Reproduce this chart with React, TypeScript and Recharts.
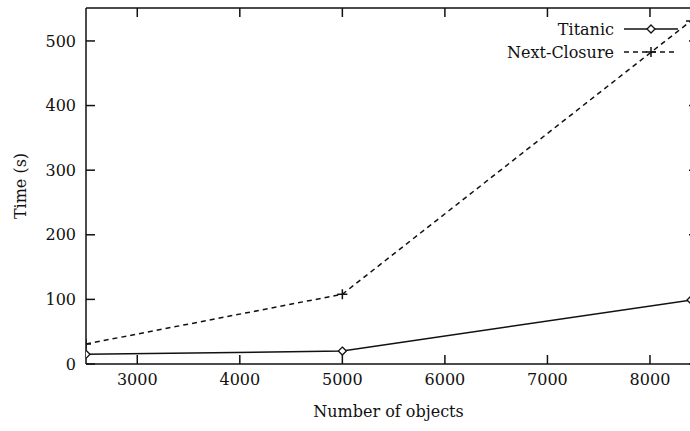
import { LineChart, Line, XAxis, YAxis, Label } from "recharts";

const objects = [2500, 5000, 8400];
const titanic = [15, 20, 99];
const nextClosure = [31, 108, 531];
const xTicks = [3000, 4000, 5000, 6000, 7000, 8000];
const yTicks = [0, 100, 200, 300, 400, 500];

const data = objects.map((n, i) => ({
  n,
  titanic: titanic[i],
  nextClosure: nextClosure[i],
}));

const FONT = "'DejaVu Serif', serif";
const INK = "#111";

const Diamond = (props: any) => {
  const { cx, cy } = props;
  if (cx == null || cy == null) return null;
  return (
    <path
      d={`M${cx},${cy - 4}L${cx + 4},${cy}L${cx},${cy + 4}L${cx - 4},${cy}Z`}
      fill="#fff"
      stroke={INK}
      strokeWidth={1.3}
    />
  );
};

const Plus = (props: any) => {
  const { cx, cy } = props;
  if (cx == null || cy == null) return null;
  return (
    <path
      d={`M${cx - 5},${cy}H${cx + 5}M${cx},${cy - 5}V${cy + 5}`}
      stroke={INK}
      strokeWidth={1.5}
    />
  );
};

const LegendBox = () => (
  <svg
    width={210}
    height={50}
    style={{ position: "absolute", left: 480, top: 15, fontFamily: FONT, fontSize: 16 }}
  >
    <text x={134} y={14} textAnchor="end" dominantBaseline="central" fill={INK}>
      Titanic
    </text>
    <line x1={144} x2={198} y1={14} y2={14} stroke={INK} strokeWidth={1.5} />
    <Diamond cx={171} cy={14} />
    <text x={134} y={37} textAnchor="end" dominantBaseline="central" fill={INK}>
      Next-Closure
    </text>
    <line x1={144} x2={198} y1={37} y2={37} stroke={INK} strokeWidth={1.5} strokeDasharray="5 4" />
    <Plus cx={171} cy={37} />
  </svg>
);

const tickStyle = { fontFamily: FONT, fontSize: 16, fill: INK };

export default function App() {
  return (
    <div
      style={{ position: "absolute", left: 0, top: 0, width: 690, height: 431, overflow: "hidden" }}
    >
      <LineChart
        width={694}
        height={431}
        data={data}
        margin={{ top: 7, right: 2, left: 0, bottom: 0 }}
      >
        <XAxis
          xAxisId="b"
          dataKey="n"
          type="number"
          domain={[2500, 8400]}
          ticks={xTicks}
          allowDataOverflow
          height={67}
          tickSize={-9}
          tickMargin={19}
          tick={tickStyle}
          stroke={INK}
          strokeWidth={1.5}
        >
          <Label
            value="Number of objects"
            position="insideBottom"
            offset={14}
            style={{ fontFamily: FONT, fontSize: 16, fill: INK }}
          />
        </XAxis>
        <XAxis
          xAxisId="t"
          orientation="top"
          dataKey="n"
          type="number"
          domain={[2500, 8400]}
          ticks={xTicks}
          allowDataOverflow
          height={1}
          tickSize={-9}
          tickFormatter={() => ""}
          stroke={INK}
          strokeWidth={1.5}
        />
        <YAxis
          yAxisId="l"
          type="number"
          domain={[0, 551]}
          ticks={yTicks}
          allowDataOverflow
          width={86}
          tickSize={-9}
          tickMargin={19}
          tick={tickStyle}
          stroke={INK}
          strokeWidth={1.5}
        >
          <Label
            value="Time (s)"
            position="insideLeft"
            angle={-90}
            offset={20}
            style={{ fontFamily: FONT, fontSize: 16, fill: INK, textAnchor: "middle" }}
          />
        </YAxis>
        <YAxis
          yAxisId="r"
          orientation="right"
          type="number"
          domain={[0, 551]}
          ticks={yTicks}
          allowDataOverflow
          width={1}
          tickSize={-2}
          tickFormatter={() => ""}
          stroke={INK}
          strokeWidth={1.5}
        />
        <Line
          xAxisId="t"
          yAxisId="r"
          dataKey="titanic"
          stroke="none"
          dot={false}
          activeDot={false}
          isAnimationActive={false}
        />
        <Line
          xAxisId="b"
          yAxisId="l"
          dataKey="titanic"
          stroke={INK}
          strokeWidth={1.5}
          dot={<Diamond />}
          activeDot={false}
          isAnimationActive={false}
        />
        <Line
          xAxisId="b"
          yAxisId="l"
          dataKey="nextClosure"
          stroke={INK}
          strokeWidth={1.5}
          strokeDasharray="5 4"
          dot={<Plus />}
          activeDot={false}
          isAnimationActive={false}
        />
      </LineChart>
      <LegendBox />
    </div>
  );
}
